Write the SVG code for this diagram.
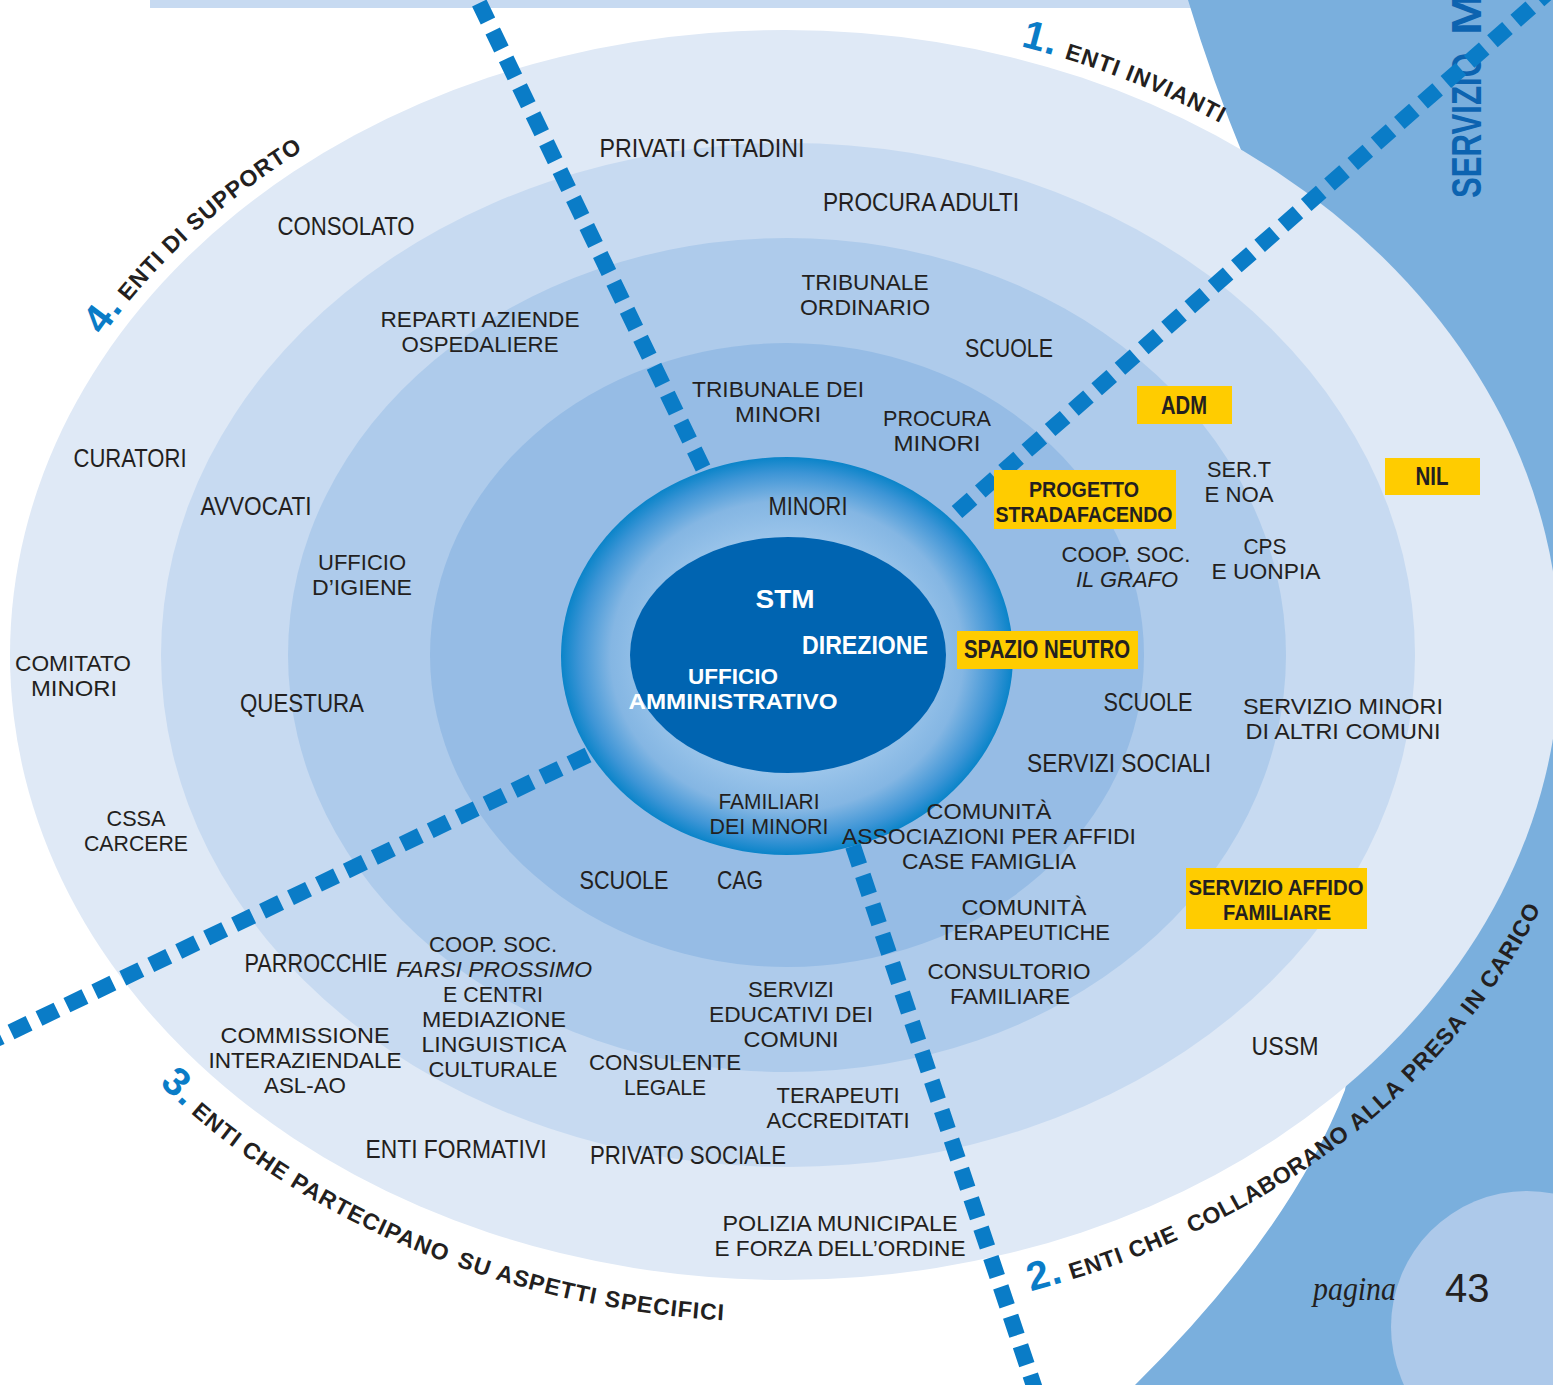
<svg xmlns="http://www.w3.org/2000/svg" width="1553" height="1385" viewBox="0 0 1553 1385">
<style>
.t{font-family:"Liberation Sans",Arial,sans-serif;font-size:25px;fill:#231f20;text-anchor:middle}
.m{font-size:22.3px}
.b{font-weight:bold}
.i{font-style:italic}
.w{fill:#ffffff}
.box{fill:#ffcc00}
.dash{fill:none;stroke:#0a7cc7;stroke-width:16;stroke-dasharray:20 11}
.arc{font-family:"Liberation Sans",Arial,sans-serif;font-size:23px;font-weight:bold;fill:#231f20;letter-spacing:1px}
.arc.tight{letter-spacing:0.5px}
.num{font-size:40px;fill:#0a7cc7}
.svz{font-family:"Liberation Sans",Arial,sans-serif;font-size:43px;font-weight:bold;fill:#0c63b0}
</style>
<defs>
<radialGradient id="ringGrad" cx="50%" cy="50%" r="50%">
<stop offset="0" stop-color="#a8cdee"/>
<stop offset="0.6" stop-color="#9ac4ea"/>
<stop offset="0.78" stop-color="#84b6e3"/>
<stop offset="0.92" stop-color="#3d95d6"/>
<stop offset="1" stop-color="#0a84c9"/>
</radialGradient>
<path id="p1" d="M1020.6,46.2 A788,638 0 0 1 1573,655"/>
<path id="p4" d="M102.6,336 A788,638 0 0 1 1573,655"/>
<path id="p3" d="M159,1084 A817,667 0 0 0 1602,655"/>
<path id="p2" d="M1030.7,1291.1 A817,667 0 0 0 1602,655"/>
</defs>
<rect x="0" y="0" width="1553" height="1385" fill="#ffffff"/>
<g id="background">
<rect x="150" y="0" width="1050" height="8" fill="#c7daf1"/>
<path d="M1188,0 Q1212,80 1245,160 L1420,655 L1345,1090 Q1290,1232 1135,1385 L1553,1385 L1553,0 Z" fill="#7aafdd"/>
<circle cx="1527" cy="1327" r="136" fill="#adc9ea"/>
<text class="svz" transform="translate(1481,198) rotate(-90)"><tspan x="0" y="0" textLength="145" lengthAdjust="spacingAndGlyphs">SERVIZIO</tspan> <tspan x="163" y="0" textLength="42" lengthAdjust="spacingAndGlyphs">M</tspan></text>
<text x="1313" y="1300" font-family="Liberation Serif, serif" font-style="italic" font-size="33" fill="#231f20" textLength="83" lengthAdjust="spacingAndGlyphs">pagina</text>
<text x="1445" y="1302" font-family="Liberation Sans, Arial, sans-serif" font-size="40" fill="#231f20">43</text>
</g>
<g id="rings">
<ellipse id="ring-outer" cx="785" cy="655" rx="775" ry="625" fill="#dfe9f6"/>
<ellipse id="ring-2" cx="788" cy="655" rx="627" ry="512" fill="#c7daf1"/>
<ellipse id="ring-3" cx="787" cy="655" rx="499" ry="417" fill="#aecbeb"/>
<ellipse id="ring-4" cx="787" cy="655" rx="357" ry="312" fill="#96bce5"/>
<ellipse id="ring-5" cx="787" cy="656" rx="226" ry="199" fill="url(#ringGrad)"/>
<ellipse id="core" cx="788" cy="655" rx="158" ry="118" fill="#0064b1"/>
</g>
<g id="connectors">
<line class="dash" x1="703" y1="468" x2="474" y2="-8"/>
<line class="dash" x1="957" y1="512" x2="1562" y2="-20"/>
<line class="dash" x1="588" y1="755" x2="-10" y2="1042"/>
<line class="dash" x1="853" y1="846" x2="1036" y2="1392"/>
</g>
<g id="label-1">
<text class="arc"><textPath href="#p1" class="num">1.</textPath></text>
<text class="arc"><textPath href="#p1" startOffset="45">ENTI INVIANTI</textPath></text>
</g>
<g id="label-4">
<text class="arc"><textPath href="#p4" class="num">4.</textPath></text>
<text class="arc"><textPath href="#p4" startOffset="42.75">ENTI DI SUPPORTO</textPath></text>
</g>
<g id="label-3">
<text class="arc"><textPath href="#p3" class="num">3.</textPath></text>
<text class="arc"><textPath href="#p3" startOffset="42.75">ENTI</textPath></text>
<text class="arc"><textPath href="#p3" startOffset="106.53">CHE</textPath></text>
<text class="arc"><textPath href="#p3" startOffset="165.48">PARTECIPANO</textPath></text>
<text class="arc"><textPath href="#p3" startOffset="351.26">SU ASPETTI</textPath></text>
<text class="arc"><textPath href="#p3" startOffset="504.12">SPECIFICI</textPath></text>
</g>
<g id="label-2">
<text class="arc"><textPath href="#p2" class="num">2.</textPath></text>
<text class="arc"><textPath href="#p2" startOffset="42.75">ENTI CHE</textPath></text>
<text class="arc tight"><textPath href="#p2" startOffset="171">COLLABORANO</textPath></text>
<text class="arc"><textPath href="#p2" startOffset="365.29">ALLA</textPath></text>
<text class="arc"><textPath href="#p2" startOffset="438">PRESA IN CARICO</textPath></text>
</g>
<g id="n-stm"><text class="t b w" x="785" y="608" textLength="59" lengthAdjust="spacingAndGlyphs">STM</text></g>
<g id="n-direzione"><text class="t b w" x="865" y="654" textLength="126" lengthAdjust="spacingAndGlyphs">DIREZIONE</text></g>
<g id="n-ufficio-amm"><text class="t m b w"><tspan x="733" y="684" textLength="90" lengthAdjust="spacingAndGlyphs">UFFICIO</tspan><tspan x="733" y="709" textLength="209" lengthAdjust="spacingAndGlyphs">AMMINISTRATIVO</tspan></text></g>
<g id="n-minori"><text class="t" x="808" y="515" textLength="79" lengthAdjust="spacingAndGlyphs">MINORI</text></g>
<g id="n-familiari"><text class="t m"><tspan x="769" y="809" textLength="101" lengthAdjust="spacingAndGlyphs">FAMILIARI</tspan><tspan x="769" y="834" textLength="119" lengthAdjust="spacingAndGlyphs">DEI MINORI</tspan></text></g>
<g id="n-privati"><text class="t" x="702" y="157" textLength="205" lengthAdjust="spacingAndGlyphs">PRIVATI CITTADINI</text></g>
<g id="n-procura-adulti"><text class="t" x="921" y="211" textLength="196" lengthAdjust="spacingAndGlyphs">PROCURA ADULTI</text></g>
<g id="n-tribunale-ord"><text class="t m"><tspan x="865" y="290" textLength="127" lengthAdjust="spacingAndGlyphs">TRIBUNALE</tspan><tspan x="865" y="315" textLength="130" lengthAdjust="spacingAndGlyphs">ORDINARIO</tspan></text></g>
<g id="n-scuole-top"><text class="t" x="1009" y="357" textLength="88" lengthAdjust="spacingAndGlyphs">SCUOLE</text></g>
<g id="n-tribunale-min"><text class="t m"><tspan x="778" y="397" textLength="172" lengthAdjust="spacingAndGlyphs">TRIBUNALE DEI</tspan><tspan x="778" y="422" textLength="86" lengthAdjust="spacingAndGlyphs">MINORI</tspan></text></g>
<g id="n-procura-min"><text class="t m"><tspan x="937" y="426" textLength="108" lengthAdjust="spacingAndGlyphs">PROCURA</tspan><tspan x="937" y="451" textLength="87" lengthAdjust="spacingAndGlyphs">MINORI</tspan></text></g>
<g id="n-consolato"><text class="t" x="346" y="235" textLength="137" lengthAdjust="spacingAndGlyphs">CONSOLATO</text></g>
<g id="n-reparti"><text class="t m"><tspan x="480" y="327" textLength="199" lengthAdjust="spacingAndGlyphs">REPARTI AZIENDE</tspan><tspan x="480" y="352" textLength="157" lengthAdjust="spacingAndGlyphs">OSPEDALIERE</tspan></text></g>
<g id="n-curatori"><text class="t" x="130" y="467" textLength="113" lengthAdjust="spacingAndGlyphs">CURATORI</text></g>
<g id="n-avvocati"><text class="t" x="256" y="515" textLength="111" lengthAdjust="spacingAndGlyphs">AVVOCATI</text></g>
<g id="n-igiene"><text class="t m"><tspan x="362" y="570" textLength="88" lengthAdjust="spacingAndGlyphs">UFFICIO</tspan><tspan x="362" y="595" textLength="100" lengthAdjust="spacingAndGlyphs">D’IGIENE</tspan></text></g>
<g id="n-comitato"><text class="t m"><tspan x="73" y="671" textLength="116" lengthAdjust="spacingAndGlyphs">COMITATO</tspan><tspan x="74" y="696" textLength="86" lengthAdjust="spacingAndGlyphs">MINORI</tspan></text></g>
<g id="n-questura"><text class="t" x="302" y="712" textLength="124" lengthAdjust="spacingAndGlyphs">QUESTURA</text></g>
<g id="n-cssa"><text class="t m"><tspan x="136" y="826" textLength="59" lengthAdjust="spacingAndGlyphs">CSSA</tspan><tspan x="136" y="851" textLength="104" lengthAdjust="spacingAndGlyphs">CARCERE</tspan></text></g>
<g id="n-adm"><rect class="box" x="1137" y="386" width="95" height="38"/><text class="t b" x="1184" y="414" textLength="46" lengthAdjust="spacingAndGlyphs">ADM</text></g>
<g id="n-progetto"><rect class="box" x="994" y="470" width="182" height="59"/><text class="t m b"><tspan x="1084" y="497" textLength="110" lengthAdjust="spacingAndGlyphs">PROGETTO</tspan><tspan x="1084" y="522" textLength="177" lengthAdjust="spacingAndGlyphs">STRADAFACENDO</tspan></text></g>
<g id="n-nil"><rect class="box" x="1385" y="458" width="95" height="37"/><text class="t b" x="1432" y="485" textLength="33" lengthAdjust="spacingAndGlyphs">NIL</text></g>
<g id="n-sert"><text class="t m"><tspan x="1239" y="477" textLength="64" lengthAdjust="spacingAndGlyphs">SER.T</tspan><tspan x="1239" y="502" textLength="69" lengthAdjust="spacingAndGlyphs">E NOA</tspan></text></g>
<g id="n-grafo"><text class="t m"><tspan x="1126" y="562" textLength="129" lengthAdjust="spacingAndGlyphs">COOP. SOC.</tspan><tspan class="i" x="1127" y="587" textLength="102" lengthAdjust="spacingAndGlyphs">IL GRAFO</tspan></text></g>
<g id="n-cps"><text class="t m"><tspan x="1265" y="554" textLength="43" lengthAdjust="spacingAndGlyphs">CPS</tspan><tspan x="1266" y="579" textLength="109" lengthAdjust="spacingAndGlyphs">E UONPIA</tspan></text></g>
<g id="n-spazio"><rect class="box" x="957" y="631" width="181" height="38"/><text class="t b" x="1047" y="658" textLength="166" lengthAdjust="spacingAndGlyphs">SPAZIO NEUTRO</text></g>
<g id="n-scuole-right"><text class="t" x="1148" y="711" textLength="89" lengthAdjust="spacingAndGlyphs">SCUOLE</text></g>
<g id="n-servizio-minori"><text class="t m"><tspan x="1343" y="714" textLength="200" lengthAdjust="spacingAndGlyphs">SERVIZIO MINORI</tspan><tspan x="1343" y="739" textLength="195" lengthAdjust="spacingAndGlyphs">DI ALTRI COMUNI</tspan></text></g>
<g id="n-servizi-sociali"><text class="t" x="1119" y="772" textLength="184" lengthAdjust="spacingAndGlyphs">SERVIZI SOCIALI</text></g>
<g id="n-comunita"><text class="t m"><tspan x="989" y="819" textLength="125" lengthAdjust="spacingAndGlyphs">COMUNITÀ</tspan><tspan x="989" y="844" textLength="294" lengthAdjust="spacingAndGlyphs">ASSOCIAZIONI PER AFFIDI</tspan><tspan x="989" y="869" textLength="174" lengthAdjust="spacingAndGlyphs">CASE FAMIGLIA</tspan></text></g>
<g id="n-comunita-ter"><text class="t m"><tspan x="1024" y="915" textLength="125" lengthAdjust="spacingAndGlyphs">COMUNITÀ</tspan><tspan x="1025" y="940" textLength="170" lengthAdjust="spacingAndGlyphs">TERAPEUTICHE</tspan></text></g>
<g id="n-consultorio"><text class="t m"><tspan x="1009" y="979" textLength="163" lengthAdjust="spacingAndGlyphs">CONSULTORIO</tspan><tspan x="1010" y="1004" textLength="120" lengthAdjust="spacingAndGlyphs">FAMILIARE</tspan></text></g>
<g id="n-affido"><rect class="box" x="1186" y="868" width="181" height="61"/><text class="t m b"><tspan x="1276" y="895" textLength="175" lengthAdjust="spacingAndGlyphs">SERVIZIO AFFIDO</tspan><tspan x="1277" y="920" textLength="108" lengthAdjust="spacingAndGlyphs">FAMILIARE</tspan></text></g>
<g id="n-ussm"><text class="t" x="1285" y="1055" textLength="67" lengthAdjust="spacingAndGlyphs">USSM</text></g>
<g id="n-scuole-bottom"><text class="t" x="624" y="889" textLength="89" lengthAdjust="spacingAndGlyphs">SCUOLE</text></g>
<g id="n-cag"><text class="t" x="740" y="889" textLength="46" lengthAdjust="spacingAndGlyphs">CAG</text></g>
<g id="n-servizi-educativi"><text class="t m"><tspan x="791" y="997" textLength="86" lengthAdjust="spacingAndGlyphs">SERVIZI</tspan><tspan x="791" y="1022" textLength="164" lengthAdjust="spacingAndGlyphs">EDUCATIVI DEI</tspan><tspan x="791" y="1047" textLength="95" lengthAdjust="spacingAndGlyphs">COMUNI</tspan></text></g>
<g id="n-consulente"><text class="t m"><tspan x="665" y="1070" textLength="152" lengthAdjust="spacingAndGlyphs">CONSULENTE</tspan><tspan x="665" y="1095" textLength="82" lengthAdjust="spacingAndGlyphs">LEGALE</tspan></text></g>
<g id="n-terapeuti"><text class="t m"><tspan x="838" y="1103" textLength="123" lengthAdjust="spacingAndGlyphs">TERAPEUTI</tspan><tspan x="838" y="1128" textLength="143" lengthAdjust="spacingAndGlyphs">ACCREDITATI</tspan></text></g>
<g id="n-privato-sociale"><text class="t" x="688" y="1164" textLength="196" lengthAdjust="spacingAndGlyphs">PRIVATO SOCIALE</text></g>
<g id="n-polizia"><text class="t m"><tspan x="840" y="1231" textLength="235" lengthAdjust="spacingAndGlyphs">POLIZIA MUNICIPALE</tspan><tspan x="840" y="1256" textLength="251" lengthAdjust="spacingAndGlyphs">E FORZA DELL’ORDINE</tspan></text></g>
<g id="n-enti-formativi"><text class="t" x="456" y="1158" textLength="181" lengthAdjust="spacingAndGlyphs">ENTI FORMATIVI</text></g>
<g id="n-parrocchie"><text class="t" x="316" y="972" textLength="143" lengthAdjust="spacingAndGlyphs">PARROCCHIE</text></g>
<g id="n-farsi-prossimo"><text class="t m"><tspan x="493" y="952" textLength="128" lengthAdjust="spacingAndGlyphs">COOP. SOC.</tspan><tspan class="i" x="494" y="977" textLength="196" lengthAdjust="spacingAndGlyphs">FARSI PROSSIMO</tspan><tspan x="493" y="1002" textLength="100" lengthAdjust="spacingAndGlyphs">E CENTRI</tspan><tspan x="494" y="1027" textLength="144" lengthAdjust="spacingAndGlyphs">MEDIAZIONE</tspan><tspan x="494" y="1052" textLength="145" lengthAdjust="spacingAndGlyphs">LINGUISTICA</tspan><tspan x="493" y="1077" textLength="129" lengthAdjust="spacingAndGlyphs">CULTURALE</tspan></text></g>
<g id="n-commissione"><text class="t m"><tspan x="305" y="1043" textLength="169" lengthAdjust="spacingAndGlyphs">COMMISSIONE</tspan><tspan x="305" y="1068" textLength="193" lengthAdjust="spacingAndGlyphs">INTERAZIENDALE</tspan><tspan x="305" y="1093" textLength="82" lengthAdjust="spacingAndGlyphs">ASL-AO</tspan></text></g>
</svg>
